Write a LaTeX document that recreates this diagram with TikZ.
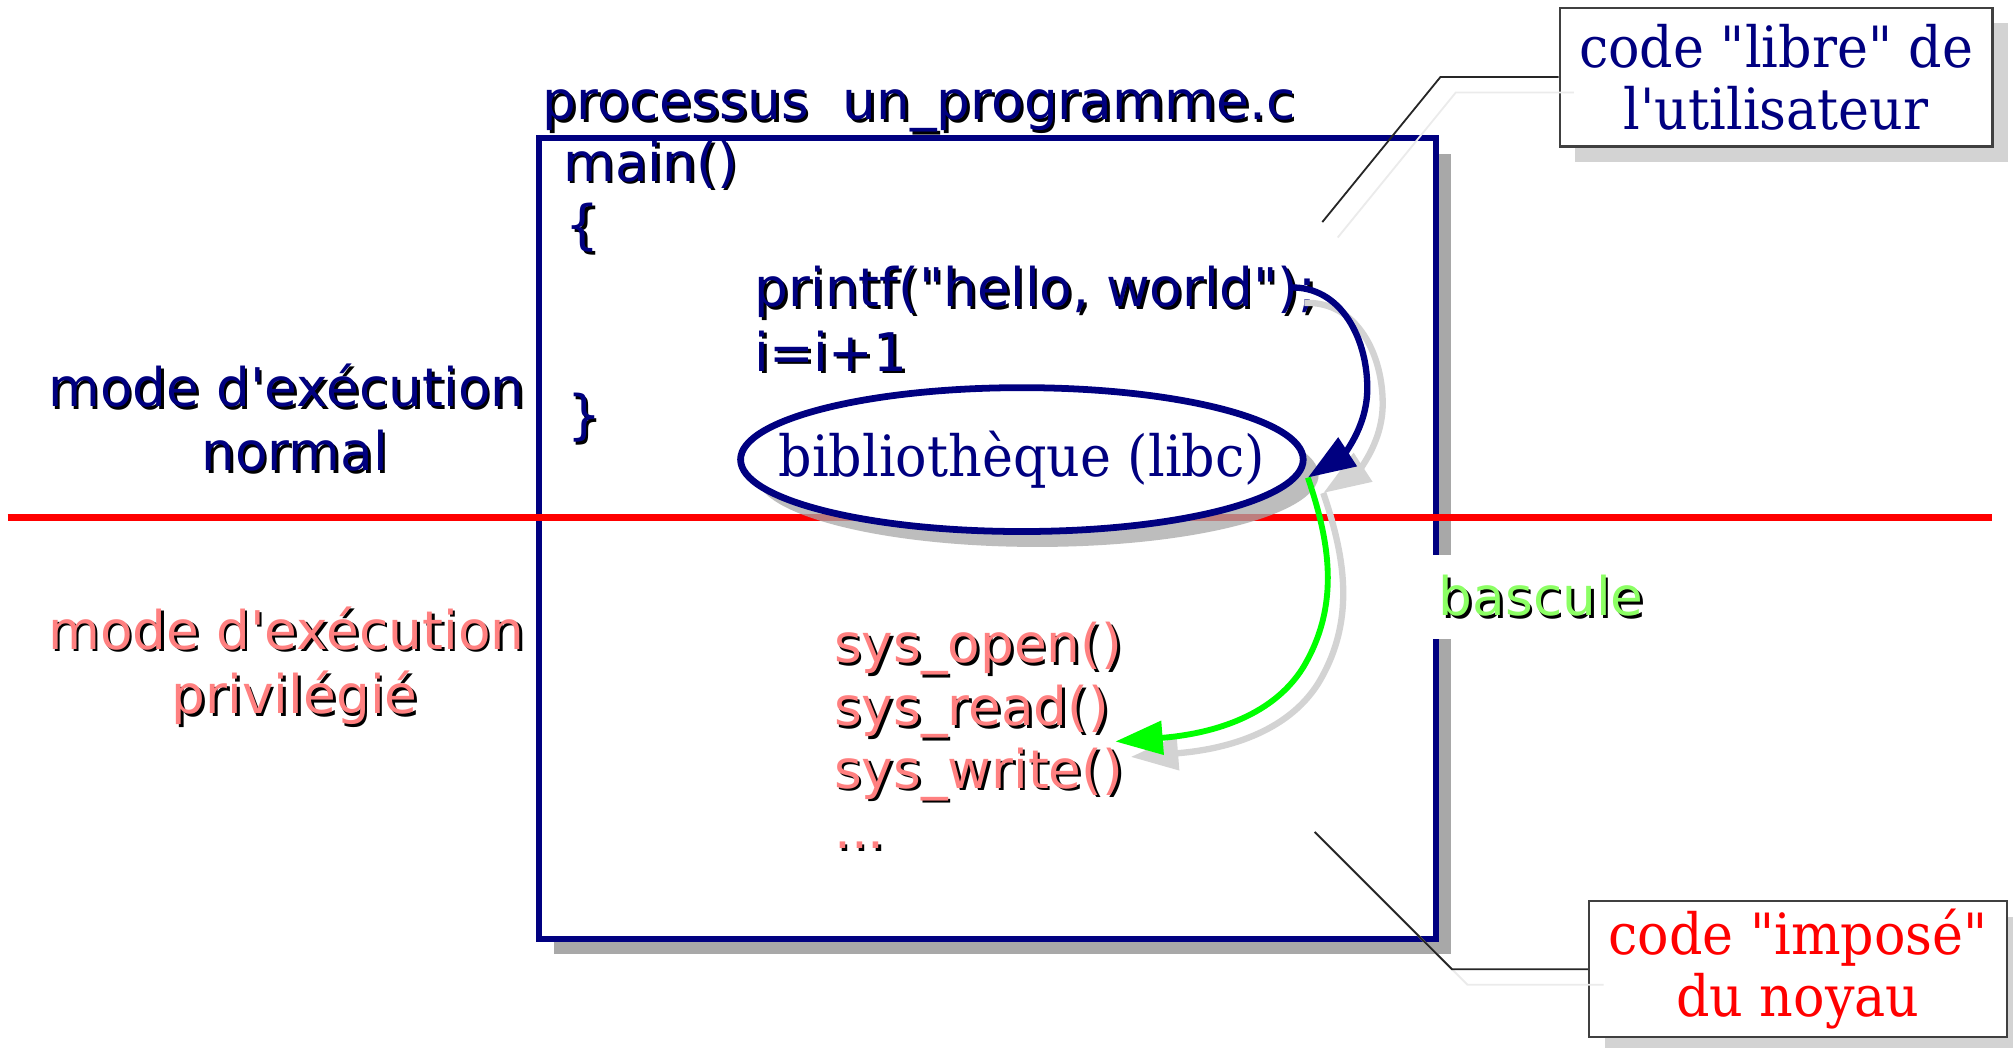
\documentclass[tikz,border=0pt]{standalone}
\usepackage{fontspec}
\usepackage{tikz}
\usetikzlibrary{shapes.geometric,shadows,arrows.meta}

\newfontfamily\codefont{DejaVu Sans}
\newfontfamily\notefont{DejaVu Serif}[FakeStretch=0.92]

\definecolor{navy}{RGB}{0,0,128}
\definecolor{rosetxt}{RGB}{255,128,128}
\definecolor{bascgreen}{RGB}{140,255,100}
\definecolor{boxshade}{RGB}{168,168,168}
\definecolor{lightshade}{RGB}{211,211,211}

% text with a small dark drop shadow
\newcommand{\shd}[2]{\makebox[0pt][l]{\kern0.6pt\raisebox{-0.6pt}{\textcolor{black}{#2}}}\textcolor{#1}{#2}}

\begin{document}
\begin{tikzpicture}[x=0.01cm, y=-0.01cm,
        txt/.style ={font=\codefont\fontsize{11.8}{14.2}\selectfont, inner sep=0pt},
        note/.style={font=\notefont\fontsize{12.6}{13.7}\selectfont, align=center,
            draw=black!75, line width=0.5pt, fill=white, inner sep=0pt,
            drop shadow={shadow xshift=0.12cm, shadow yshift=-0.12cm, fill=lightshade, opacity=1}},
        lead/.style={line width=0.4pt, draw=black!85},
        leadshade/.style={line width=0.4pt, draw=black!8,
            transform canvas={shift={(0.12cm,-0.12cm)}}},
        callarrow/.style={line width=1.4pt, -{Triangle[length=10.5pt,width=7.3pt]}},
        arrowshade/.style={callarrow, draw=lightshade,
            transform canvas={shift={(0.12cm,-0.12cm)}}}]
    \useasboundingbox (0,0) rectangle (1568,816);

    %--- Process box ---
    \node[draw=navy, line width=1.35pt, fill=white, inner sep=0pt,
        minimum width=6.98cm, minimum height=6.23cm,
        drop shadow={shadow xshift=0.12cm, shadow yshift=-0.12cm, fill=boxshade, opacity=1}]
        (proc) at (769,419.5) {};

    %--- Mode boundary ---
    \draw[red, line width=1.55pt] (6,403) -- (1552,403);

    %--- Labels ---
    \node[txt, anchor=base west] (title) at (422,93) {\shd{navy}{processus\ \ un\_programme.c}};
    \node[txt, align=center] (normal) at (223,326.5)
        {\shd{navy}{mode d'exécution}\\\kern0.13cm\shd{navy}{normal}};
    \node[txt, align=center] (priv) at (223,519.5)
        {\shd{rosetxt}{mode d'exécution}\\\kern0.13cm\shd{rosetxt}{privilégié}};

    %--- User code ---
    \node[txt, anchor=base west] (main) at (438,141) {\shd{navy}{main()}};
    \node[txt, anchor=base west] (lbrace) at (440,190) {\shd{navy}{\{}};
    \node[txt, anchor=base west] (printf) at (587,239) {\shd{navy}{printf("hello, world");}};
    \node[txt, anchor=base west] (incr) at (587,289) {\shd{navy}{i=i+1}};
    \node[txt, anchor=base west] (rbrace) at (441,338) {\shd{navy}{\}}};

    %--- Kernel calls ---
    \node[txt, anchor=base west] (sysopen) at (649,516) {\shd{rosetxt}{sys\_open()}};
    \node[txt, anchor=base west] (sysread) at (649,565) {\shd{rosetxt}{sys\_read()}};
    \node[txt, anchor=base west] (syswrite) at (649,614) {\shd{rosetxt}{sys\_write()}};
    \node[txt, anchor=base west] (sysdots) at (649,661) {\shd{rosetxt}{...}};

    %--- Library ---
    \node[ellipse, draw=navy, fill=white, line width=1.5pt, inner sep=0pt,
        minimum width=4.38cm, minimum height=1.12cm,
        drop shadow={shadow xshift=0.12cm, shadow yshift=-0.12cm, fill=boxshade, opacity=0.75},
        font=\notefont\fontsize{12.6}{13.7}\selectfont, text=navy] (libc) at (796,358)
        {\makebox[0pt]{bibliothèque (libc)}};
    \coordinate (sw) at ([shift={(1,14)}]libc.east);

    %--- Call into the library ---
    \draw[arrowshade] ([shift={(-22,-15)}]printf.base east)
        .. controls (1045,222) and (1066,265) .. (1065,305)
        .. controls (1064,335) and (1045,355) .. (sw);
    \draw[callarrow, navy] ([shift={(-22,-15)}]printf.base east)
        .. controls (1045,222) and (1066,265) .. (1065,305)
        .. controls (1064,335) and (1045,355) .. (sw);

    %--- Switch to kernel mode ---
    \draw[arrowshade] (sw)
        .. controls (1035,420) and (1045,470) .. (1015,520)
        .. controls (990,560) and (940,572) .. ([xshift=0.04cm]sysread.south east);
    \draw[callarrow, green, line width=1.3pt] (sw)
        .. controls (1035,420) and (1045,470) .. (1015,520)
        .. controls (990,560) and (940,572) .. ([xshift=0.04cm]sysread.south east);

    \node[txt, fill=white, anchor=west, inner xsep=0.06cm, minimum height=0.66cm]
        (bascule) at (1114,465) {\shd{bascgreen}{bascule}};

    %--- Callouts ---
    \node[note, minimum width=3.37cm, minimum height=1.08cm, text=navy] (usrnote) at (1383.5,60)
        {code "libre" de\\l'utilisateur};
    \node[note, minimum width=3.25cm, minimum height=1.06cm, text=red] (krnnote) at (1400.5,755)
        {code "imposé"\\du noyau};

    \coordinate (usrbend) at (1122,60);
    \coordinate (usrtip) at (1030,173);
    \coordinate (krnbend) at (1131,755);
    \coordinate (krntip) at (1024,648);

    \draw[leadshade] (usrnote.west) -- (usrbend) -- (usrtip);
    \draw[lead] (usrnote.west) -- (usrbend) -- (usrtip);
    \draw[leadshade] (krnnote.west) -- (krnbend) -- (krntip);
    \draw[lead] (krnnote.west) -- (krnbend) -- (krntip);

\end{tikzpicture}
\end{document}
